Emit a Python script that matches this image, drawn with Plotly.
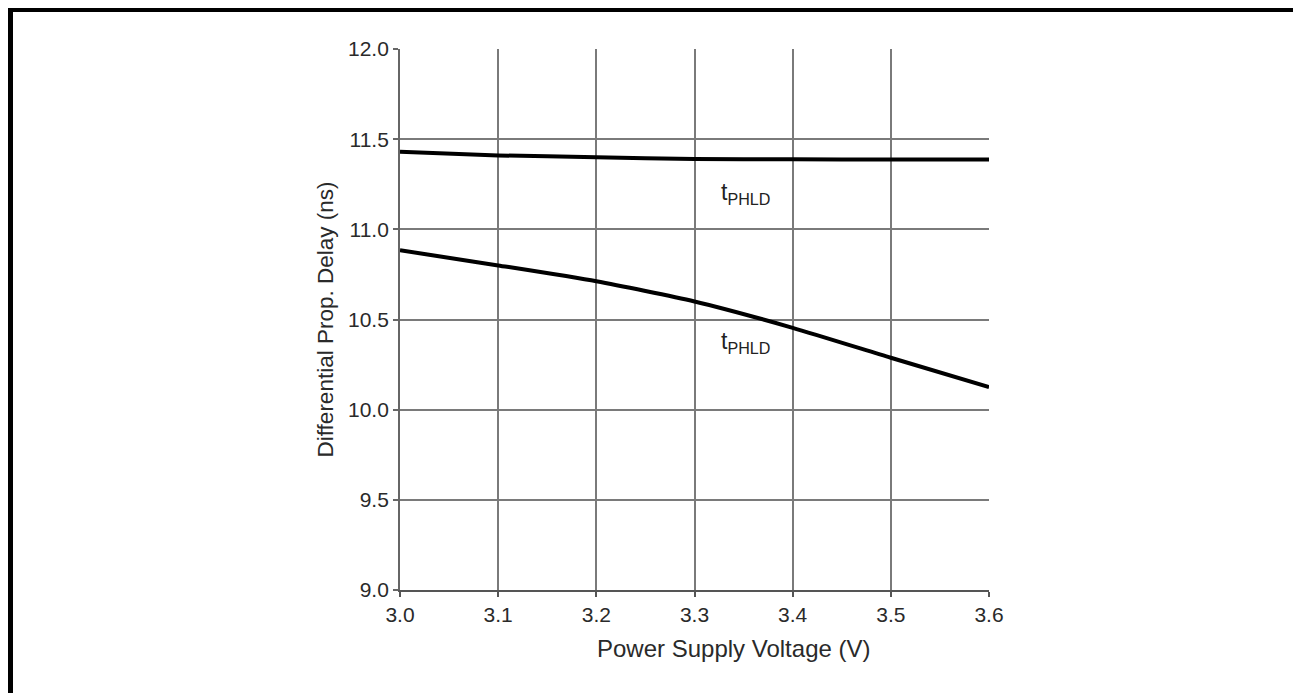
import plotly.graph_objects as go

voltage = [3.0, 3.1, 3.2, 3.3, 3.4, 3.5, 3.6]
tphld_upper = [11.43, 11.41, 11.40, 11.39, 11.388, 11.387, 11.387]
tphld_lower = [10.884, 10.80, 10.712, 10.60, 10.454, 10.288, 10.125]

x_ticks = [3.0, 3.1, 3.2, 3.3, 3.4, 3.5, 3.6]
y_ticks = [9.0, 9.5, 10.0, 10.5, 11.0, 11.5, 12.0]

x_title = "Power Supply Voltage (V)"
y_title = "Differential Prop. Delay (ns)"
label_text = "t<sub>PHLD</sub>"
label_pos = [(3.352, 11.20), (3.352, 10.37)]

FAM = "Liberation Sans, Arial, sans-serif"

fig = go.Figure()
for ys in (tphld_upper, tphld_lower):
    fig.add_trace(go.Scatter(x=voltage, y=ys, mode="lines",
                             line=dict(color="black", width=4, shape="spline", smoothing=0.6),
                             showlegend=False, hoverinfo="skip"))

for (lx, ly) in label_pos:
    fig.add_annotation(x=lx, y=ly, text=label_text, showarrow=False,
                       font=dict(family=FAM, size=23, color="#222"))

font = dict(family=FAM, size=21, color="#2a2a2a")

fig.update_xaxes(range=[3.0, 3.6], tickvals=x_ticks, ticktext=[f"{v:.1f}" for v in x_ticks],
                 showgrid=True, gridcolor="#7a7a7a", gridwidth=1.8,
                 showline=True, linecolor="#555", linewidth=2.2, mirror=False,
                 ticks="outside", ticklen=5, tickcolor="#555", tickwidth=1.8,
                 tickfont=font, zeroline=False)
fig.update_yaxes(range=[9.0, 12.0], tickvals=y_ticks, ticktext=[f"{v:.1f}" for v in y_ticks],
                 showgrid=True, gridcolor="#7a7a7a", gridwidth=1.8,
                 showline=True, linecolor="#666", linewidth=1.8, mirror=False,
                 ticks="outside", ticklen=5, tickcolor="#666", tickwidth=1.8,
                 tickfont=font, zeroline=False,
                 title=dict(text=y_title,
                            font=dict(family=FAM, size=22.5, color="#2a2a2a"), standoff=8))

# page is rendered with an 8px body offset; work in page pixels
OFF = 8
W, H = 1301 - OFF, 693 - OFF
L, T = 400 - OFF, 49 - OFF
PW, PH = 589, 541
R = W - L - PW
B = H - T - PH

def px(x):
    return (x - OFF - L) / PW
def py(y):
    return (T + PH - (y - OFF)) / PH

# x-axis title, centred where the reference places it
fig.add_annotation(xref="paper", yref="paper", x=px(733), y=py(648),
                   xanchor="center", yanchor="middle", showarrow=False,
                   text=x_title, font=dict(family=FAM, size=24, color="#2a2a2a"))

frame = dict(type="path", xref="paper", yref="paper",
             path=f"M {px(10)} {py(740)} L {px(10)} {py(9)} L {px(1298.5)} {py(9)} L {px(1298.5)} {py(740)}",
             line=dict(color="black", width=6))
fig.add_shape(**frame)

fig.update_layout(width=W, height=H,
                  margin=dict(l=L, r=R, t=T, b=B),
                  paper_bgcolor="white", plot_bgcolor="white")

fig.write_html("out.html")
